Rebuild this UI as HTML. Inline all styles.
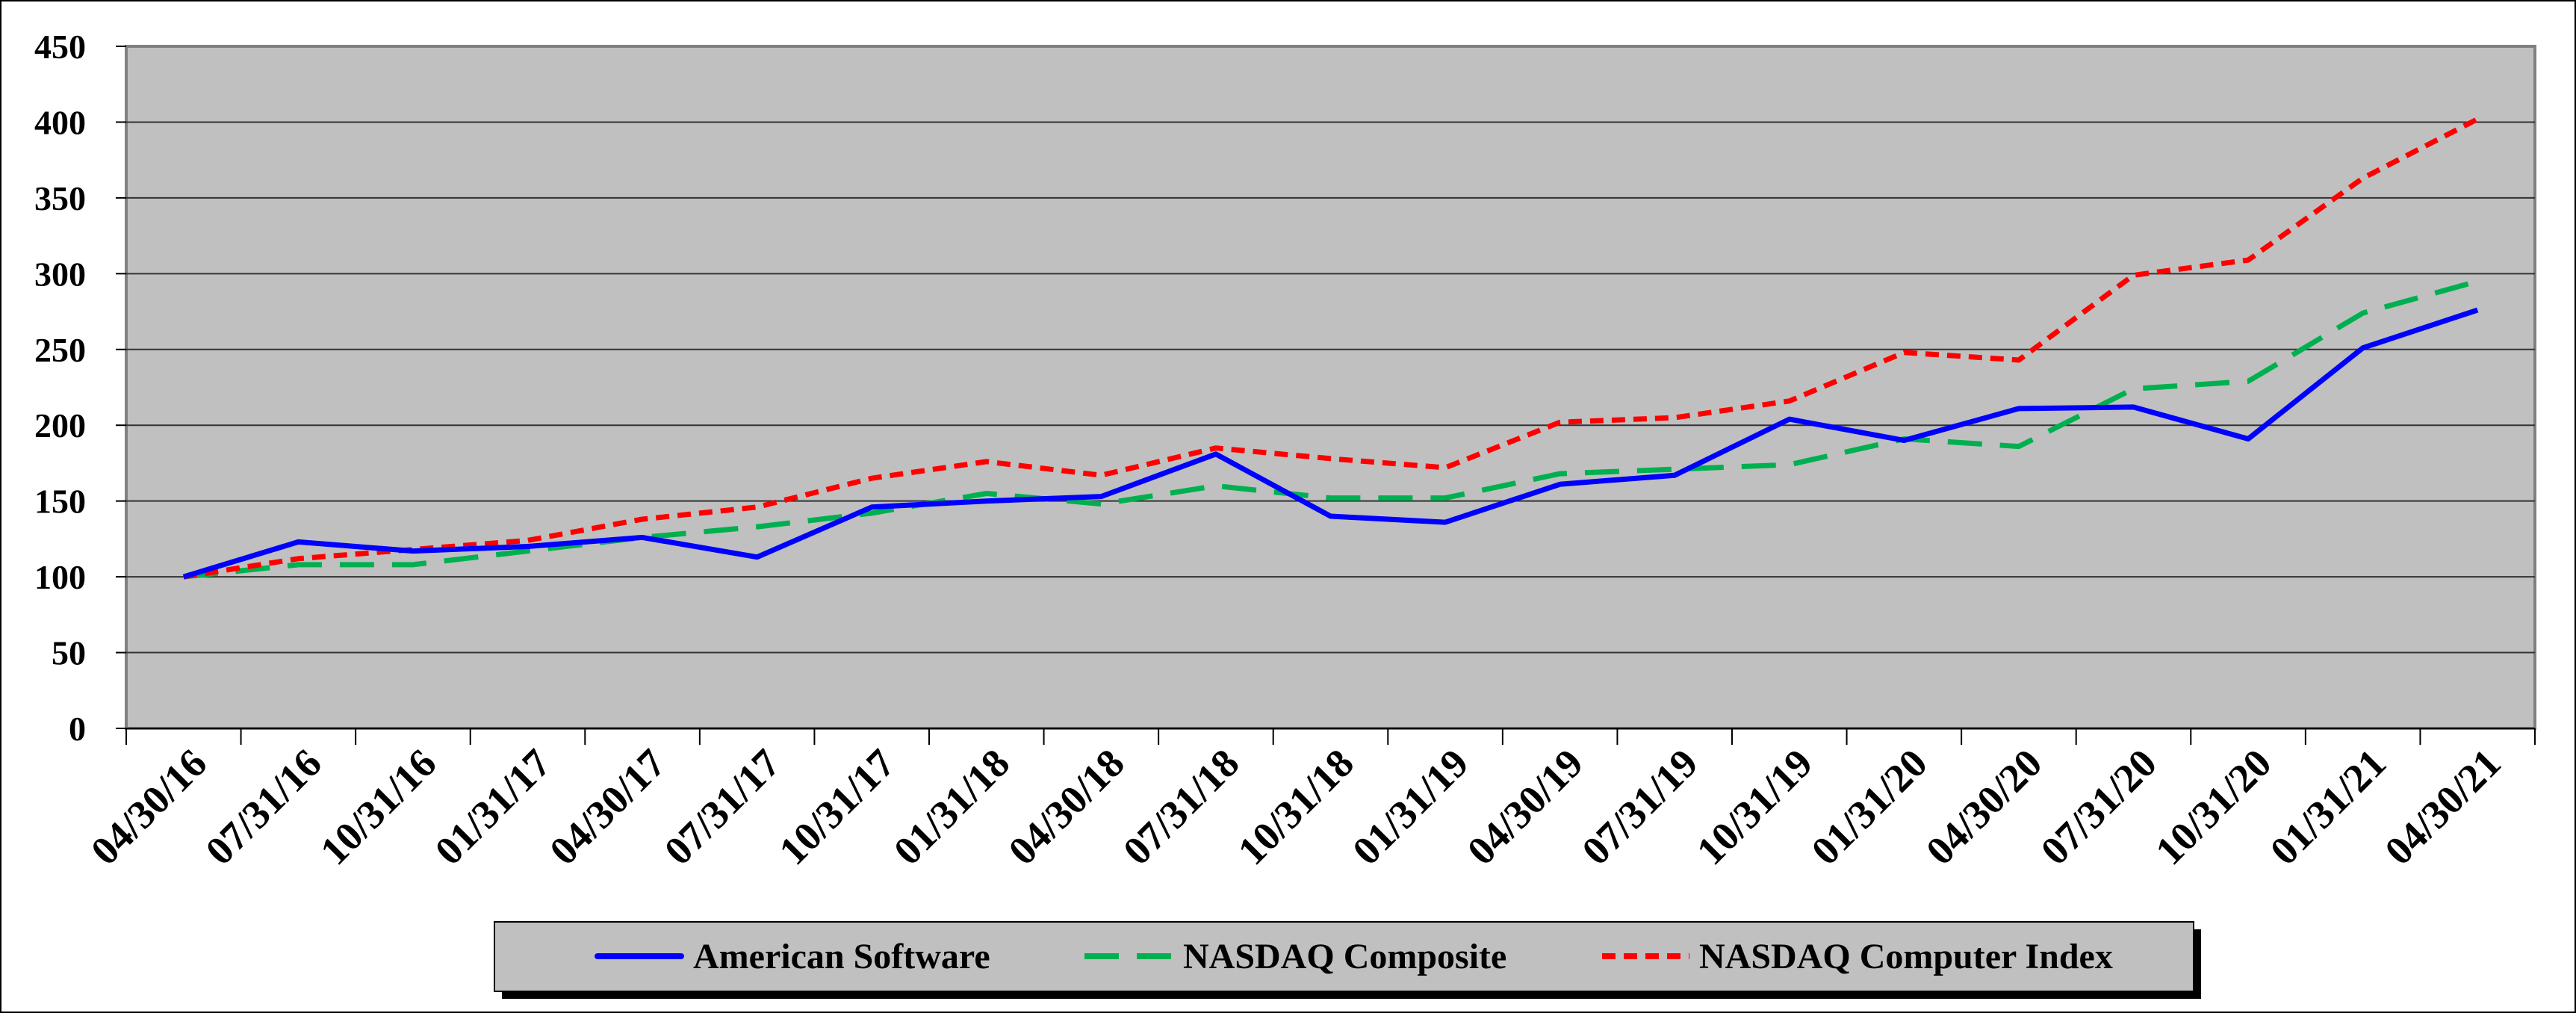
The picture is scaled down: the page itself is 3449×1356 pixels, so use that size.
<!DOCTYPE html>
<html><head><meta charset="utf-8"><style>
html,body{margin:0;padding:0;background:#fff}
svg{display:block}
text{font-family:"Liberation Serif",serif;font-weight:bold}
</style></head><body>
<svg id="chart" width="3449" height="1356" viewBox="0 0 3449 1356" xmlns="http://www.w3.org/2000/svg">
<rect x="1" y="1" width="3447" height="1354" fill="#fff" stroke="#000" stroke-width="2"/>
<g id="plot"></g>
<g id="legend">
<rect x="672" y="1244" width="2275" height="93" fill="#000"/>
<rect x="662" y="1234" width="2275" height="93" fill="#c0c0c0" stroke="#000" stroke-width="2"/>
<line x1="800" y1="1280" x2="912" y2="1280" stroke="#0000ff" stroke-width="8" stroke-linecap="round"/>
<text x="928" y="1296" font-size="48">American Software</text>
<line x1="1452" y1="1280" x2="1569" y2="1280" stroke="#00b050" stroke-width="8" stroke-dasharray="46 24"/>
<text x="1584" y="1296" font-size="48">NASDAQ Composite</text>
<line x1="2145" y1="1280" x2="2262" y2="1280" stroke="#ff0000" stroke-width="8" stroke-dasharray="18 11"/>
<text x="2275" y="1296" font-size="48">NASDAQ Computer Index</text>
</g>
</svg>
<script>
const categories = ["04/30/16","07/31/16","10/31/16","01/31/17","04/30/17","07/31/17","10/31/17","01/31/18","04/30/18","07/31/18","10/31/18","01/31/19","04/30/19","07/31/19","10/31/19","01/31/20","04/30/20","07/31/20","10/31/20","01/31/21","04/30/21"];
const americanSoftware = [100,123,117,120,126,113,146,150,153,181,140,136,161,167,204,190,211,212,191,251,276];
const nasdaqComposite = [100,108,108,117,126,133,142,155,148,160,152,152,168,171,174,191,186,224,229,274,295];
const nasdaqComputer = [100,112,118,124,138,146,165,176,167,185,178,172,202,205,216,248,243,299,309,363,402];
const yTicks = [0,50,100,150,200,250,300,350,400,450];

const NS="http://www.w3.org/2000/svg";
const L=169,R=3394,T=62,B=975,YMAX=450;
const step=(R-L)/categories.length;
const xPos=i=>L+step*(i+0.5);
const yPos=v=>B-(v/YMAX)*(B-T);
const g=document.getElementById('plot');
function mk(tag,attrs){const e=document.createElementNS(NS,tag);for(const k in attrs)e.setAttribute(k,attrs[k]);g.appendChild(e);return e;}

let e=mk('rect',{x:L,y:T,width:R-L,height:B-T,fill:'#c0c0c0',stroke:'#808080','stroke-width':4});



yTicks.forEach(v=>{
  const y=yPos(v);
  if(v>0&&v<YMAX){const gl=mk('line',{x1:L,y1:y,x2:R,y2:y,stroke:'#333','stroke-width':2});
    
    }
  const tk=mk('line',{x1:L-14,y1:y,x2:L,y2:y,stroke:'#000','stroke-width':2});
  
  
  const t=mk('text',{x:115,y:y+16,'text-anchor':'end','font-size':46});
  t.textContent=v;
  
  
});
for(let i=0;i<=categories.length;i++){
  const x=L+step*i;
  const tk=mk('line',{x1:x,y1:B,x2:x,y2:B+22,stroke:'#000','stroke-width':2});
  
  
}
categories.forEach((c,i)=>{
  const ax=xPos(i)+34, ay=1025;
  const t=mk('text',{x:ax,y:ay,'text-anchor':'end','font-size':54,transform:`rotate(-45 ${ax} ${ay})`});
  t.textContent=c;
  
  
});
const ax=mk('line',{x1:L,y1:B,x2:R,y2:B,stroke:'#000','stroke-width':2});



function series(data,color,dash,name){
  const pts=data.map((v,i)=>xPos(i).toFixed(1)+','+yPos(v).toFixed(1)).join(' ');
  const p=mk('polyline',{points:pts,fill:'none',stroke:color,'stroke-width':7,'stroke-linejoin':'round'});
  if(dash)p.setAttribute('stroke-dasharray',dash);
  
  
}
series(nasdaqComposite,'#00b050','46 24','series-nasdaq-composite');
series(nasdaqComputer,'#ff0000','18 11','series-nasdaq-computer-index');
series(americanSoftware,'#0000ff',null,'series-american-software');
</script>
</body></html>
